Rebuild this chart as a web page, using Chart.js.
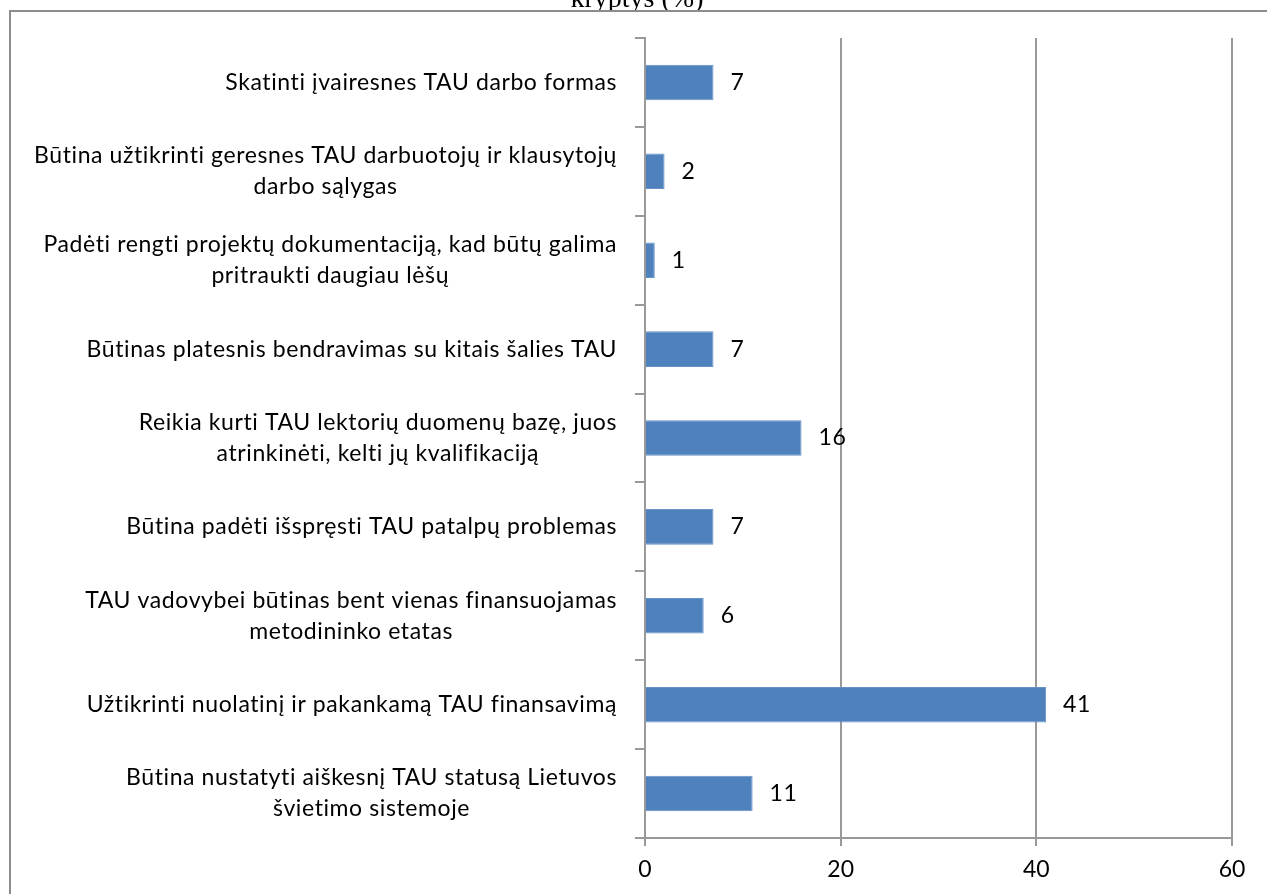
<!DOCTYPE html>
<html lang="lt">
<head>
<meta charset="UTF-8">
<title>TAU veiklos kryptys (%)</title>
<script src="https://cdn.jsdelivr.net/npm/chart.js"></script>
<style>
    body { margin: 0; background: #fff; }
    #wrap { width: 1267px; height: 894px; }
</style>
</head>
<body>
<div id="wrap"><canvas id="chart" width="1267" height="894"></canvas></div>
<script>
const titleText = 'kryptys (%)';
const categories = [
    'Skatinti įvairesnes TAU darbo formas',
    ['Būtina užtikrinti geresnes TAU darbuotojų ir klausytojų', 'darbo sąlygas'],
    ['Padėti rengti projektų dokumentaciją, kad būtų galima', 'pritraukti daugiau lėšų'],
    'Būtinas platesnis bendravimas su kitais šalies TAU',
    ['Reikia kurti TAU lektorių duomenų bazę, juos', 'atrinkinėti, kelti jų kvalifikaciją'],
    'Būtina padėti išspręsti TAU patalpų problemas',
    ['TAU vadovybei būtinas bent vienas finansuojamas', 'metodininko etatas'],
    'Užtikrinti nuolatinį ir pakankamą TAU finansavimą',
    ['Būtina nustatyti aiškesnį TAU statusą Lietuvos', 'švietimo sistemoje']
];
const values = [7, 2, 1, 7, 16, 7, 6, 41, 11];
const xMin = 0, xMax = 60, xStep = 20;

const FONT = '23px Lato';
const SPACING = '0.6px';
const GRID = '#999';

// rėmelis ir pavadinimas
const framePlugin = {
    id: 'frame',
    beforeDraw(chart) {
        const ctx = chart.ctx;
        ctx.save();
        ctx.fillStyle = '#fff';
        ctx.fillRect(0, 0, chart.width, chart.height);
        ctx.font = '28px "Liberation Serif"';
        ctx.fillStyle = '#000';
        ctx.textAlign = 'center';
        ctx.textBaseline = 'alphabetic';
        ctx.fillText(titleText, 637, 7);
        ctx.fillStyle = '#fff';
        ctx.fillRect(10, 11, 1400, 1000);
        ctx.strokeStyle = '#8c8c8c';
        ctx.lineWidth = 2;
        ctx.strokeRect(10, 11, 1400, 1000);
        ctx.restore();
    }
};

// kategorijų pavadinimai: blokas lygiuojamas dešinėn, eilutės centruojamos
const yLabelPlugin = {
    id: 'yLabels',
    afterDraw(chart) {
        const ctx = chart.ctx;
        const y = chart.scales.y;
        ctx.save();
        ctx.font = FONT;
        ctx.letterSpacing = SPACING;
        ctx.fillStyle = '#000';
        ctx.textAlign = 'center';
        ctx.textBaseline = 'middle';
        categories.forEach((lab, i) => {
            const lines = Array.isArray(lab) ? lab : [lab];
            const w = Math.max(...lines.map(l => ctx.measureText(l).width));
            const cx = y.right - 28 - w / 2;
            const cy = y.getPixelForTick(i);
            lines.forEach((l, k) => {
                ctx.fillText(l, cx, cy + (k - (lines.length - 1) / 2) * 31);
            });
        });
        ctx.restore();
    }
};

// reikšmės prie stulpelių
const valueLabelPlugin = {
    id: 'valueLabels',
    afterDatasetsDraw(chart) {
        const ctx = chart.ctx;
        const meta = chart.getDatasetMeta(0);
        ctx.save();
        ctx.font = FONT;
        ctx.letterSpacing = SPACING;
        ctx.fillStyle = '#000';
        ctx.textAlign = 'left';
        ctx.textBaseline = 'middle';
        meta.data.forEach((bar, i) => {
            ctx.fillText(String(values[i]), bar.x + 17, bar.y);
        });
        ctx.restore();
    }
};

new Chart(document.getElementById('chart'), {
    type: 'bar',
    data: {
        labels: categories,
        datasets: [{
            data: values,
            backgroundColor: '#4f81bd',
            borderColor: '#6792c8',
            borderWidth: 1,
            barPercentage: 0.4,
            categoryPercentage: 1
        }]
    },
    options: {
        indexAxis: 'y',
        responsive: false,
        animation: false,
        layout: { padding: { top: 38, right: 35, bottom: 0, left: 0 } },
        plugins: {
            legend: { display: false },
            tooltip: { enabled: false }
        },
        scales: {
            y: {
                type: 'category',
                grid: { offset: true, drawOnChartArea: false, tickLength: 10, color: GRID, lineWidth: 2 },
                border: { color: GRID, width: 2 },
                ticks: { display: false },
                afterFit(s) { s.width = 645; }
            },
            x: {
                type: 'linear',
                min: xMin,
                max: xMax,
                grid: { color: GRID, tickLength: 8, lineWidth: 2 },
                border: { color: GRID, width: 2 },
                ticks: { stepSize: xStep, color: '#000', font: { family: 'Lato', size: 23 }, padding: 10 },
                afterFit(s) { s.height = 56; }
            }
        }
    },
    plugins: [framePlugin, yLabelPlugin, valueLabelPlugin]
});
</script>
</body>
</html>
